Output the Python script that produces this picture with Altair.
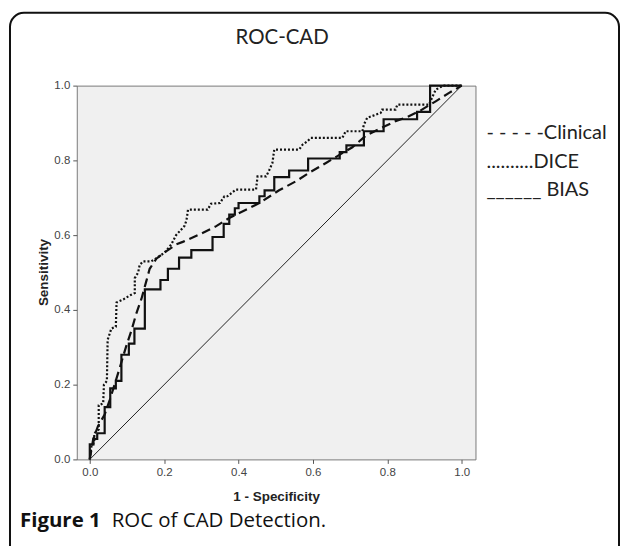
import altair as alt
import pandas as pd

# ---- data ----
bias_x = [0, 0, 0.01, 0.01, 0.02, 0.02, 0.04, 0.04, 0.055, 0.055, 0.07, 0.07, 0.085, 0.085,
          0.105, 0.105, 0.12, 0.12, 0.148, 0.148, 0.19, 0.19, 0.21, 0.21, 0.24, 0.24, 0.273, 0.273,
          0.33, 0.33, 0.36, 0.36, 0.375, 0.375, 0.39, 0.39, 0.40, 0.40, 0.456, 0.456, 0.47, 0.47,
          0.496, 0.496, 0.536, 0.536, 0.587, 0.587, 0.672, 0.672, 0.69, 0.69, 0.737, 0.737,
          0.79, 0.79, 0.88, 0.88, 0.915, 0.915, 1.0]
bias_y = [0, 0.04, 0.04, 0.055, 0.055, 0.07, 0.07, 0.14, 0.14, 0.19, 0.19, 0.21, 0.21, 0.28,
          0.28, 0.31, 0.31, 0.35, 0.35, 0.455, 0.455, 0.48, 0.48, 0.51, 0.51, 0.54, 0.54, 0.56,
          0.56, 0.595, 0.595, 0.63, 0.63, 0.655, 0.655, 0.672, 0.672, 0.686, 0.686, 0.704, 0.704, 0.72,
          0.72, 0.755, 0.755, 0.773, 0.773, 0.805, 0.805, 0.822, 0.822, 0.84, 0.84, 0.878,
          0.878, 0.91, 0.91, 0.93, 0.93, 1.0, 1.0]

dice_x = [0, 0.005, 0.012, 0.012, 0.024, 0.024, 0.036, 0.038, 0.046, 0.048, 0.058, 0.07, 0.072,
          0.09, 0.11, 0.121, 0.121, 0.13, 0.134, 0.143, 0.165, 0.174, 0.201, 0.219, 0.232, 0.255,
          0.26, 0.264, 0.317, 0.326, 0.35, 0.362, 0.37, 0.393, 0.447, 0.451, 0.474, 0.483, 0.491,
          0.496, 0.563, 0.572, 0.585, 0.594, 0.679, 0.688, 0.733, 0.737, 0.746, 0.782, 0.786,
          0.822, 0.827, 0.912, 0.92, 0.93, 0.95, 1.0]
dice_y = [0, 0.04, 0.045, 0.07, 0.08, 0.145, 0.15, 0.2, 0.21, 0.32, 0.35, 0.355, 0.42,
          0.428, 0.44, 0.445, 0.485, 0.5, 0.52, 0.53, 0.53, 0.535, 0.553, 0.575, 0.6, 0.625,
          0.64, 0.668, 0.668, 0.684, 0.686, 0.704, 0.704, 0.722, 0.722, 0.757, 0.757, 0.775, 0.793,
          0.829, 0.829, 0.842, 0.851, 0.86, 0.86, 0.878, 0.878, 0.896, 0.914, 0.927, 0.936,
          0.936, 0.949, 0.949, 0.967, 0.989, 1.0, 1.0]

clin_x = [0, 0.009, 0.022, 0.04, 0.054, 0.071, 0.085, 0.098, 0.112, 0.125, 0.139, 0.152, 0.161,
          0.179, 0.2, 0.232, 0.25, 0.295, 0.34, 0.375, 0.42, 0.456, 0.509, 0.554, 0.59, 0.635,
          0.68, 0.706, 0.742, 0.77, 0.822, 0.849, 0.885, 0.93, 0.965, 1.0]
clin_y = [0, 0.053, 0.089, 0.12, 0.16, 0.214, 0.26, 0.303, 0.345, 0.39, 0.43, 0.477, 0.51,
          0.537, 0.553, 0.575, 0.582, 0.602, 0.624, 0.646, 0.668, 0.686, 0.72, 0.744, 0.767, 0.793,
          0.82, 0.835, 0.866, 0.88, 0.905, 0.914, 0.931, 0.958, 0.98, 1.0]

ref_x = [0, 1]
ref_y = [0, 1]

tick_values = [0.0, 0.2, 0.4, 0.6, 0.8, 1.0]
legend_labels = ["- - - - -Clinical", "..........DICE", "______ BIAS"]
chart_title = "ROC-CAD"
caption_bold = "Figure 1"
caption_rest = "ROC of CAD Detection."


def frame(xs, ys):
    return pd.DataFrame({"x": xs, "y": ys, "i": list(range(len(xs)))})


W, H = 400, 375
FONT_AX = "Liberation Sans"
FONT_SPSS = "Lato"
FONT_CAP = "Open Sans"

xscale = alt.Scale(domain=[-0.035, 1.037], nice=False, zero=False)
yscale = alt.Scale(domain=[0, 1], nice=False)

xenc = alt.X("x:Q", scale=xscale, axis=alt.Axis(
    values=tick_values, format=".1f", title="1 - Specificity", grid=False, domain=False,
    tickSize=4, tickColor="#555", labelColor="#444", labelFont=FONT_AX, labelFontSize=11.5,
    labelPadding=3, titleFont=FONT_AX, titleFontSize=13.5, titleFontWeight="bold",
    titleColor="#222", titleY=37, titleBaseline="middle"))
yenc = alt.Y("y:Q", scale=yscale, axis=alt.Axis(
    values=tick_values, format=".1f", title="Sensitivity", grid=False, domain=False,
    tickSize=4, tickColor="#555", labelColor="#444", labelFont=FONT_AX, labelFontSize=11.5,
    labelPadding=3, titleFont=FONT_AX, titleFontSize=13.5, titleFontWeight="bold",
    titleColor="#222", titleX=-33, titleY=187, titleAngle=270, titleAlign="center",
    titleBaseline="middle"))

diag = alt.Chart(frame(ref_x, ref_y)).mark_line(color="#222", strokeWidth=1).encode(
    x=xenc, y=yenc, order="i:Q")
clin = alt.Chart(frame(clin_x, clin_y)).mark_line(
    color="#111", strokeWidth=2.2, strokeDash=[9, 5]).encode(x="x:Q", y="y:Q", order="i:Q")
dice = alt.Chart(frame(dice_x, dice_y)).mark_line(
    color="#111", strokeWidth=2.2, strokeDash=[2, 2]).encode(x="x:Q", y="y:Q", order="i:Q")
bias = alt.Chart(frame(bias_x, bias_y)).mark_line(
    color="#111", strokeWidth=2.2).encode(x="x:Q", y="y:Q", order="i:Q")

one = pd.DataFrame({"k": [0]})
outer = alt.Chart(one).mark_rect(
    filled=False, stroke="#111", strokeWidth=2, cornerRadius=14, clip=False).encode(
    x=alt.value(-67), x2=alt.value(544), y=alt.value(-73), y2=alt.value(520))

title_t = alt.Chart(pd.DataFrame({"t": [chart_title]})).mark_text(
    font=FONT_SPSS, fontSize=20.5, color="#222", align="center", baseline="middle").encode(
    x=alt.value(206), y=alt.value(-48), text="t:N")

leg = pd.DataFrame({"t": legend_labels, "yy": [48, 77, 105]})
legend_t = alt.Chart(leg).mark_text(
    font=FONT_SPSS, fontSize=20, color="#222", align="left", baseline="middle").encode(
    x=alt.value(411), y=alt.Y("yy:Q", scale=None, axis=None), text="t:N")

cap1 = alt.Chart(pd.DataFrame({"t": [caption_bold]})).mark_text(
    font=FONT_CAP, fontSize=20.5, fontWeight="bold", color="#111", align="left",
    baseline="middle").encode(x=alt.value(-57), y=alt.value(437), text="t:N")
cap2 = alt.Chart(pd.DataFrame({"t": [caption_rest]})).mark_text(
    font=FONT_CAP, fontSize=20.5, color="#111", align="left",
    baseline="middle").encode(x=alt.value(35), y=alt.value(437), text="t:N")

chart = alt.layer(diag, clin, dice, bias, outer, title_t, legend_t, cap1, cap2).properties(
    width=W, height=H,
    autosize=alt.AutoSizeParams(type="none"),
    padding={"left": 69, "top": 77, "right": 146, "bottom": 86},
    background="white",
).configure_view(fill="#f0f0f0", stroke="#7a7a7a", strokeWidth=1)

chart.save("out.html", embed_options={"renderer": "svg", "actions": False})
